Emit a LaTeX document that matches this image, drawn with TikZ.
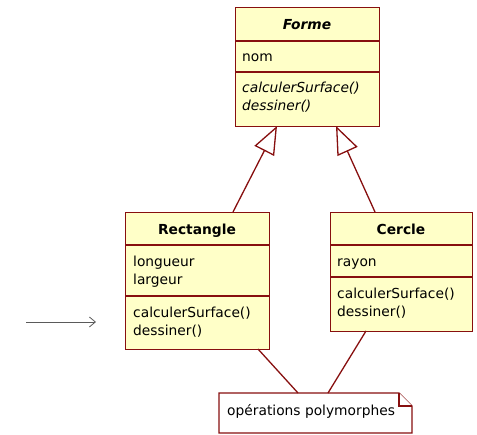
\documentclass[tikz,border=0pt]{standalone}
\usepackage{fontspec}
\setmainfont{DejaVu Sans}
\usetikzlibrary{arrows.meta}
\definecolor{umlred}{RGB}{135,15,15}
\definecolor{umlfill}{RGB}{255,255,200}
\definecolor{arrgray}{RGB}{90,90,90}
\newcommand{\umlfs}{\fontsize{13.8}{16}\selectfont}
\tikzset{
  classbox/.style={draw=umlred, fill=umlfill, line width=1.4pt, rectangle, inner sep=0pt, anchor=north west},
  divider/.style={draw=umlred, line width=1.4pt},
  txt/.style={inner sep=0pt, anchor=base west, font=\umlfs},
  ttl/.style={inner sep=0pt, anchor=base, font=\umlfs\bfseries},
  inherit/.style={draw=umlred, line width=1.3pt, -{Triangle[open, length=28pt, width=22pt, fill=white]}},
  anchorline/.style={draw=umlred, line width=1.3pt},
  notebox/.style={draw=umlred, fill=white, line width=1.4pt},
}
\begin{document}
\begin{tikzpicture}[x=1pt, y=-1pt]
\useasboundingbox (0,0) rectangle (477,435);
% Forme
\node[classbox, minimum width=144pt, minimum height=119pt] (forme) at (235,7) {};
\draw[divider] (235,41) -- (379,41);
\draw[divider] (235,72) -- (379,72);
\node[ttl, font=\umlfs\bfseries\itshape] (formet) at (307,30) {Forme};
\node[txt] (formea) at (242,62) {nom};
\node[txt, font=\umlfs\itshape] (formeo1) at (242,93) {calculerSurface()};
\node[txt, font=\umlfs\itshape] (formeo2) at (242,111) {dessiner()};
% Rectangle
\node[classbox, minimum width=144pt, minimum height=137pt] (rect) at (125,212) {};
\draw[divider] (125,245) -- (269,245);
\draw[divider] (125,296) -- (269,296);
\node[ttl] (rectt) at (197,235) {Rectangle};
\node[txt] (recta1) at (133,267) {longueur};
\node[txt] (recta2) at (133,285) {largeur};
\node[txt] (recto1) at (133,318) {calculerSurface()};
\node[txt] (recto2) at (133,336) {dessiner()};
% Cercle
\node[classbox, minimum width=142pt, minimum height=119pt] (cercle) at (330,212) {};
\draw[divider] (330,245) -- (472,245);
\draw[divider] (330,277) -- (472,277);
\node[ttl] (cerclet) at (401,235) {Cercle};
\node[txt] (cerclea) at (337,267) {rayon};
\node[txt] (cercleo1) at (337,299) {calculerSurface()};
\node[txt] (cercleo2) at (337,317) {dessiner()};
% inheritance
\coordinate (rtop) at (233,212);
\coordinate (ftipl) at (277,126);
\coordinate (ctop) at (375,212);
\coordinate (ftipr) at (336,126);
\draw[inherit] (rtop) -- (ftipl);
\draw[inherit] (ctop) -- (ftipr);
% note
\draw[notebox] (219,393) -- (399,393) -- (412,406) -- (412,433) -- (219,433) -- cycle;
\draw[notebox] (399,393) -- (399,406) -- (412,406);
\node[txt] (notet) at (227,416) {opérations polymorphes};
\coordinate (nl) at (298,393);
\coordinate (nr) at (328,393);
\coordinate (rbot) at (258,349);
\coordinate (cbot) at (366,331);
\draw[anchorline] (rbot) -- (nl);
\draw[anchorline] (cbot) -- (nr);
% free arrow
\coordinate (fa1) at (26,322);
\coordinate (fa2) at (96,322);
\draw[arrgray, line width=0.8pt, -{Straight Barb[length=6pt, width=10pt]}] (fa1) -- (fa2);
\end{tikzpicture}
\end{document}
